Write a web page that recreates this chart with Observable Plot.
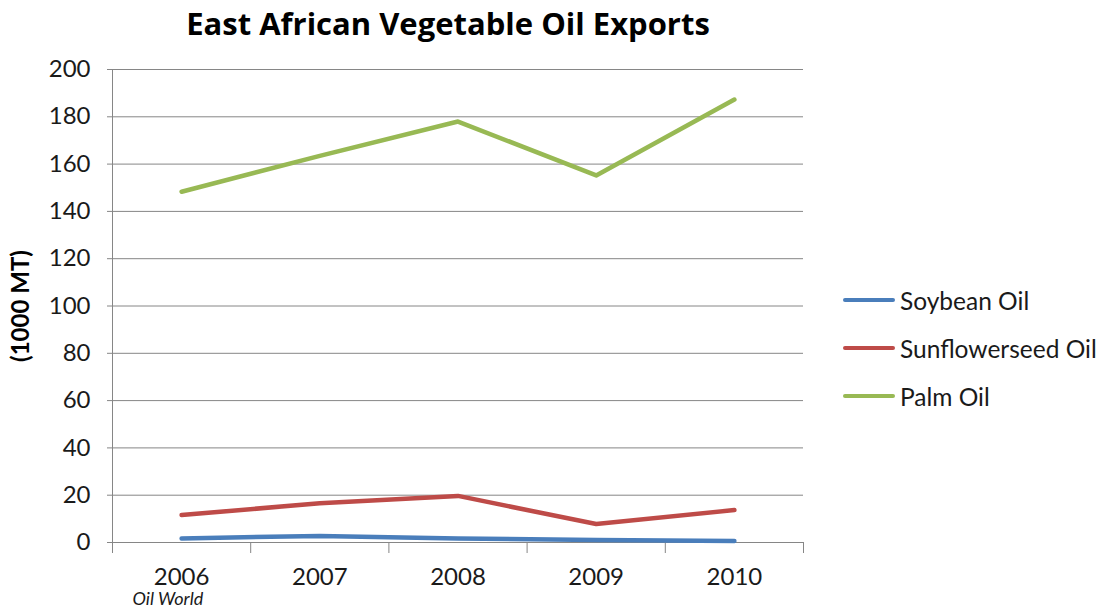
<!DOCTYPE html>
<html>
<head>
<meta charset="utf-8">
<script src="https://cdn.jsdelivr.net/npm/d3@7"></script>
<script src="https://cdn.jsdelivr.net/npm/@observablehq/plot@0.6"></script>
<style>
  html, body { margin: 0; padding: 0; background: #fff; }
  body { width: 1101px; height: 612px; position: relative; overflow: hidden; font-family: Lato, "Open Sans", sans-serif; color: #1a1a1a; }
  #title { width: 896px; height: 46px; line-height: 46px; text-align: center; font-family: "Open Sans", Lato, sans-serif; font-weight: bold; font-size: 31px; color: #000; }
  #legend { position: absolute; left: 843px; top: 276px; }
  .item { display: flex; align-items: center; height: 48px; font-size: 24.5px; color: #1a1a1a; }
  .swatch { width: 52px; height: 4px; border-radius: 2px; margin-right: 5px; }
</style>
</head>
<body>
<div id="title">East African Vegetable Oil Exports</div>
<div id="chart"></div>
<div id="legend"></div>
<script>
const years = [2006, 2007, 2008, 2009, 2010];
const soybean = [1.7, 2.8, 1.7, 1.1, 0.6];
const sunflower = [11.6, 16.6, 19.7, 7.8, 13.7];
const palm = [148.3, 163.5, 178.0, 155.2, 187.3];
const seriesNames = ["Soybean Oil", "Sunflowerseed Oil", "Palm Oil"];
const seriesColors = ["#4a7ebb", "#be4b48", "#98b954"];
const yTicks = [0, 20, 40, 60, 80, 100, 120, 140, 160, 180, 200];
const yLabel = "(1000 MT)";
const source = "Oil World";

const seriesValues = [soybean, sunflower, palm];
const data = seriesNames.flatMap((name, i) =>
  years.map((yr, j) => ({series: name, year: yr, value: seriesValues[i][j]})));
const boundaries = [years[0] - 0.5, ...years.map(y => y + 0.5)];

const grid = "#868686";
const plot = Plot.plot({
  width: 1101,
  height: 566,
  marginTop: 23,
  marginBottom: 70,
  marginLeft: 112,
  marginRight: 298,
  style: {fontFamily: "Lato, 'Open Sans', sans-serif", fontSize: "24px", color: "#1a1a1a", background: "white"},
  x: {type: "linear", domain: [years[0] - 0.5, years[years.length - 1] + 0.5]},
  y: {domain: [0, 200]},
  color: {domain: seriesNames, range: seriesColors},
  marks: [
    Plot.ruleY(yTicks, {stroke: grid, strokeWidth: 1}),
    Plot.frame({anchor: "left", stroke: grid}),
    Plot.axisY({ticks: yTicks, tickSize: 5, tickPadding: 17, stroke: grid, label: null, fill: "#1a1a1a"}),
    Plot.axisX({ticks: boundaries, tickSize: 11, tickFormat: () => "", stroke: grid, label: null}),
    Plot.axisX({ticks: years, tickSize: 0, tickPadding: 25, tickFormat: d => String(d), label: null, fill: "#1a1a1a"}),
    Plot.lineY(data, {x: "year", y: "value", z: "series", stroke: "series", strokeWidth: 4.5, strokeLinecap: "round", strokeLinejoin: "round"}),
    Plot.text([yLabel], {frameAnchor: "left", textAnchor: "middle", rotate: -90, dx: -91, fontWeight: "bold", fontSize: 24, fill: "#000"}),
    Plot.text([source], {frameAnchor: "bottom-left", dx: 20, dy: 62, textAnchor: "start", fontStyle: "italic", fontSize: 18, fill: "#1a1a1a"})
  ]
});
document.getElementById("chart").appendChild(plot);

const legend = document.getElementById("legend");
seriesNames.forEach((name, i) => {
  const item = document.createElement("div");
  item.className = "item";
  const sw = document.createElement("div");
  sw.className = "swatch";
  sw.style.background = seriesColors[i];
  const label = document.createElement("span");
  label.textContent = name;
  item.appendChild(sw);
  item.appendChild(label);
  legend.appendChild(item);
});
</script>
</body>
</html>
